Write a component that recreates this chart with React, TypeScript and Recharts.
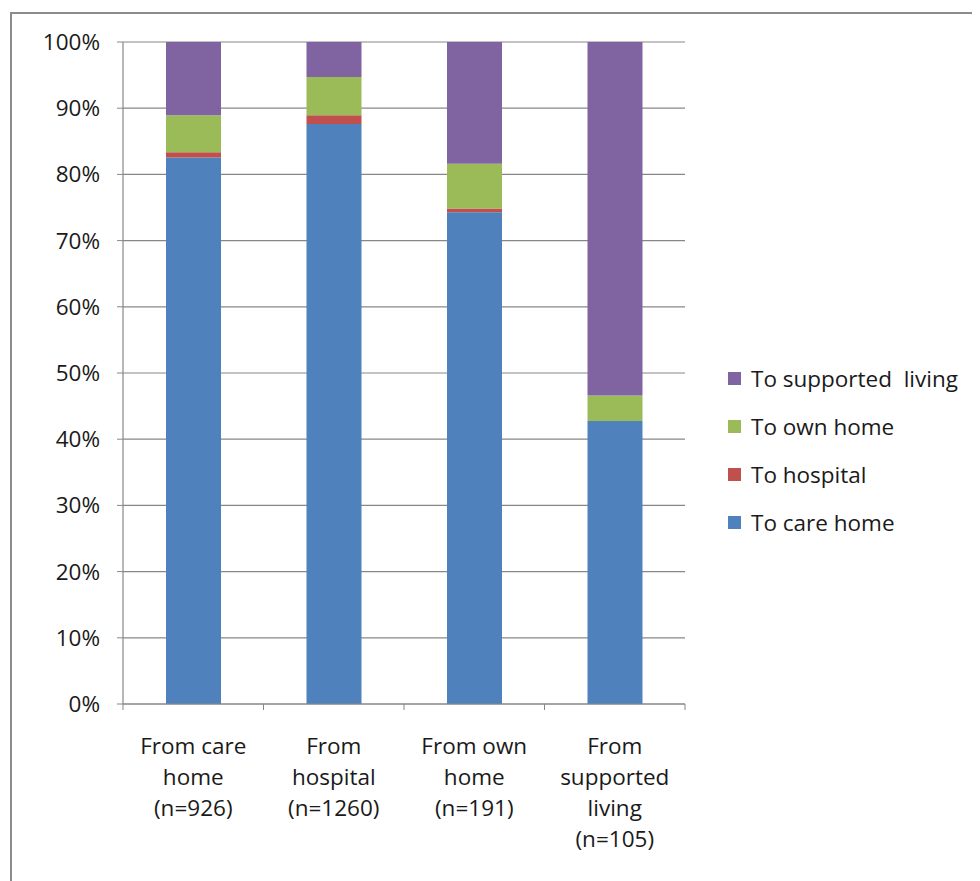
import { BarChart, Bar, XAxis, YAxis, CartesianGrid } from 'recharts'

const categories = [
  ['From care', 'home', '(n=926)'],
  ['From', 'hospital', '(n=1260)'],
  ['From own', 'home', '(n=191)'],
  ['From', 'supported', 'living', '(n=105)'],
]
const toCareHome = [82.55, 87.6, 74.3, 42.75]
const toHospital = [0.8, 1.35, 0.55, 0]
const toOwnHome = [5.6, 5.75, 6.75, 3.85]
const toSupportedLiving = [11.05, 5.3, 18.4, 53.4]
const yTicks = [0, 10, 20, 30, 40, 50, 60, 70, 80, 90, 100]

const series = [
  { key: 'careHome', name: 'To care home', color: '#4F81BD', values: toCareHome },
  { key: 'hospital', name: 'To hospital', color: '#C0504D', values: toHospital },
  { key: 'ownHome', name: 'To own home', color: '#9BBB59', values: toOwnHome },
  { key: 'supported', name: 'To supported  living', color: '#8064A2', values: toSupportedLiving },
]

const data = categories.map((lines, i) => {
  const row: any = { name: lines.join(' '), lines }
  series.forEach((s) => { row[s.key] = s.values[i] })
  return row
})

const FONT = '"Open Sans", Lato, sans-serif'
const FS = 22.5
const GREY = '#878787'

const CategoryTick = ({ x, y, payload, index }: any) => {
  const half = payload?.offset || 70.25
  const lines: string[] = categories[index] || [payload.value]
  return (
    <g>
      <line x1={x - half} x2={x - half} y1={y - 8} y2={y - 2} stroke={GREY} />
      {index === categories.length - 1 && (
        <line x1={x + half} x2={x + half} y1={y - 8} y2={y - 2} stroke={GREY} />
      )}
      <text x={x} y={y} textAnchor="middle" fill="#1a1a1a" fontSize={FS} fontFamily={FONT}>
        {lines.map((l, i) => (
          <tspan key={i} x={x} dy={i === 0 ? 42 : 31}>{l}</tspan>
        ))}
      </text>
    </g>
  )
}

export default function App() {
  const legendItems = [...series].reverse()
  return (
    <div style={{ position: 'relative', width: 972, height: 873, fontFamily: FONT }}>
      <div
        style={{
          position: 'absolute', left: 2, top: 4, right: -20, bottom: -20,
          borderTop: '2px solid #8c8c8c', borderLeft: '2px solid #8c8c8c',
        }}
      />
      <BarChart
        width={972}
        height={873}
        data={data}
        margin={{ top: 34, right: 295, left: 0, bottom: 117 }}
        style={{ position: 'absolute', left: 0, top: 0 }}
      >
        <CartesianGrid horizontal vertical={false} stroke={GREY} strokeWidth={1.2} />
        <XAxis
          dataKey="name"
          height={60}
          interval={0}
          tickLine={false}
          axisLine={{ stroke: GREY, strokeWidth: 1.2 }}
          tick={<CategoryTick />}
        />
        <YAxis
          width={115}
          domain={[0, 100]}
          ticks={yTicks}
          interval={0}
          tickFormatter={(v) => `${v}%`}
          tickSize={6}
          tickMargin={17}
          axisLine={{ stroke: GREY, strokeWidth: 1.2 }}
          tickLine={{ stroke: GREY }}
          tick={{ fill: '#1a1a1a', fontSize: FS, fontFamily: FONT }}
        />
        {series.map((s) => (
          <Bar
            key={s.key}
            dataKey={s.key}
            name={s.name}
            stackId="a"
            fill={s.color}
            barSize={55}
            isAnimationActive={false}
          />
        ))}
      </BarChart>
      <div style={{ position: 'absolute', left: 720, top: 346 }}>
        {legendItems.map((s) => (
          <div key={s.key} style={{ display: 'flex', alignItems: 'center', height: 48 }}>
            <span style={{ width: 13, height: 13, background: s.color, marginRight: 10, display: 'inline-block' }} />
            <span style={{ fontSize: FS, color: '#1a1a1a', whiteSpace: 'pre' }}>{s.name}</span>
          </div>
        ))}
      </div>
    </div>
  )
}
